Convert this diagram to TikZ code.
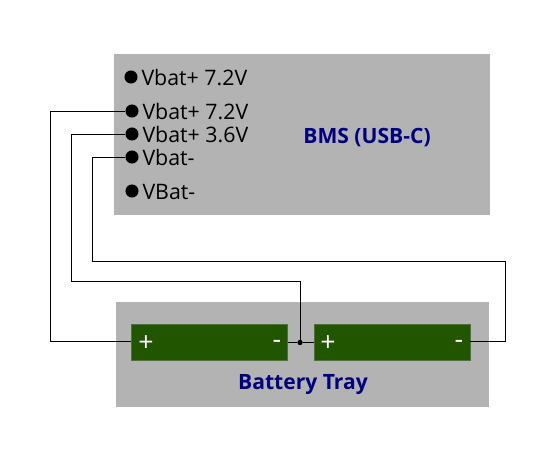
\documentclass[tikz,border=0pt]{standalone}
\usepackage{fontspec}
\setmainfont{Open Sans}
\usetikzlibrary{positioning}
\definecolor{TrayGray}{HTML}{B3B3B3}
\definecolor{CellGreen}{HTML}{225500}
\definecolor{TitleBlue}{HTML}{000080}

\begin{document}
\begin{tikzpicture}[x=0.75pt, y=-0.75pt]
		\tikzstyle{Board}	= [fill=TrayGray, inner sep=0pt]
		\tikzstyle{Cell}	= [fill=CellGreen, draw=CellGreen!70!TrayGray, line width=0.6pt, minimum width=117pt, minimum height=27pt, inner sep=0pt]
		\tikzstyle{Pin}		= [circle, fill=black, minimum size=9.8pt, inner sep=0pt]
		\tikzstyle{Joint}	= [circle, fill=black, minimum size=4pt, inner sep=0pt]
		\tikzstyle{Title}	= [font=\bfseries\fontsize{15.8}{19}\selectfont, text=TitleBlue]
		\tikzstyle{Sign}	= [font=\fontsize{20}{24}\selectfont, text=white, inner sep=0pt]
		\tikzstyle{Wire}	= [line width=0.6pt, black]
		\tikzset{every label/.style={font=\fontsize{16}{19}\selectfont, inner sep=0pt, xshift=2.6pt, yshift=-0.7pt}}

		\useasboundingbox (0,0) rectangle (548,459);

		\node (bms) at (302,134.5) [Board, minimum width=282pt, minimum height=120.75pt] {};
		\node (tray) at (302.5,354.5) [Board, minimum width=279.75pt, minimum height=78.75pt] {};

		\node (pin1) at (131,77) [Pin][label=right:Vbat+ 7.2V] {};
		\node (pin2) at (132,111) [Pin][label=right:Vbat+ 7.2V] {};
		\node (pin3) at (132,134) [Pin][label=right:Vbat+ 3.6V] {};
		\node (pin4) at (132,157) [Pin][label=right:Vbat-] {};
		\node (pin5) at (132,191) [Pin][label=right:VBat-] {};

		\node (bmsTitle) at (367,138) [Title] {BMS (USB-C)};
		\node (trayTitle) at (303,384.5) [Title] {Battery Tray};

		\node (cell1) at (209.5,342) [Cell] {};
		\node (cell2) at (392,342) [Cell] {};
		\node (plus1) at (146,343.5) [Sign] {+};
		\node (minus1) at (277,344) [Sign] {-};
		\node (plus2) at (328,343.5) [Sign] {+};
		\node (minus2) at (459,344) [Sign] {-};
		\node (joint) at (300,342.5) [Joint] {};

		\coordinate (w1) at (50,341);
		\coordinate (w2) at (71,281);
		\coordinate (w3) at (92,261);
		\coordinate (w4) at (505,341);

		% wiring
		\draw [Wire] (pin2) -| (w1) -- (cell1.west |- w1);
		\draw [Wire] (pin3) -| (w2) -| (joint);
		\draw [Wire] (pin4) -| (w3) -| (w4) -- (cell2.east |- w4);
		\draw [Wire] (cell1.east |- joint) -- (joint) -- (cell2.west |- joint);
	\end{tikzpicture}
\end{document}
